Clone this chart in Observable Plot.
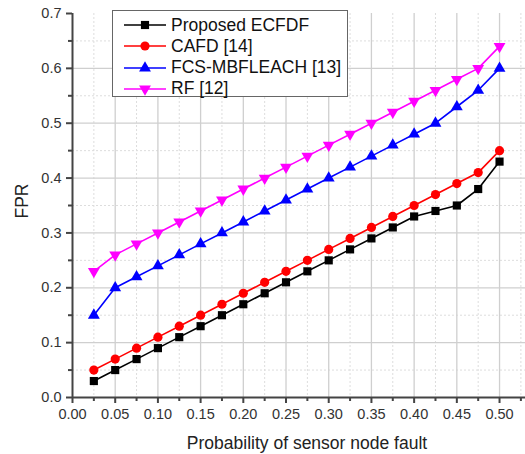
<!DOCTYPE html>
<html>
<head>
<meta charset="utf-8">
<script src="https://cdn.jsdelivr.net/npm/d3@7"></script>
<script src="https://cdn.jsdelivr.net/npm/@observablehq/plot@0.6"></script>
<style>
  html, body { margin: 0; padding: 0; background: #fff; }
  #wrap { position: relative; width: 525px; height: 454px; font-family: "Liberation Sans", Arial, sans-serif; }
  #legend { position: absolute; left: 112px; top: 10px; width: 236px; height: 87px; border: 1px solid #666; background: #fff; box-sizing: border-box; }
  .row { position: absolute; left: 0; height: 20px; display: flex; align-items: center; font-size: 17.5px; color: #111; white-space: nowrap; }
  .row svg { margin-left: 11px; margin-right: 5px; }
</style>
</head>
<body>
<div id="wrap"><div id="chart"></div><div id="legend"></div></div>
<script>
const xValues = [0.025, 0.05, 0.075, 0.1, 0.125, 0.15, 0.175, 0.2, 0.225, 0.25, 0.275, 0.3, 0.325, 0.35, 0.375, 0.4, 0.425, 0.45, 0.475, 0.5];
const ecfdf = [0.03, 0.05, 0.07, 0.09, 0.11, 0.13, 0.15, 0.17, 0.19, 0.21, 0.23, 0.25, 0.27, 0.29, 0.31, 0.33, 0.34, 0.35, 0.38, 0.43];
const cafd  = [0.05, 0.07, 0.09, 0.11, 0.13, 0.15, 0.17, 0.19, 0.21, 0.23, 0.25, 0.27, 0.29, 0.31, 0.33, 0.35, 0.37, 0.39, 0.41, 0.45];
const fcs   = [0.15, 0.20, 0.22, 0.24, 0.26, 0.28, 0.30, 0.32, 0.34, 0.36, 0.38, 0.40, 0.42, 0.44, 0.46, 0.48, 0.50, 0.53, 0.56, 0.60];
const rf    = [0.23, 0.26, 0.28, 0.30, 0.32, 0.34, 0.36, 0.38, 0.40, 0.42, 0.44, 0.46, 0.48, 0.50, 0.52, 0.54, 0.56, 0.58, 0.60, 0.64];
const seriesNames = ["Proposed ECFDF", "CAFD [14]", "FCS-MBFLEACH [13]", "RF [12]"];
const seriesColors = ["#000000", "#ff0000", "#0000ff", "#ff00ff"];
const xTicks = [0, 0.05, 0.1, 0.15, 0.2, 0.25, 0.3, 0.35, 0.4, 0.45, 0.5];
const xMinorTicks = [0.025, 0.075, 0.125, 0.175, 0.225, 0.275, 0.325, 0.375, 0.425, 0.475, 0.525];
const yTicks = [0, 0.1, 0.2, 0.3, 0.4, 0.5, 0.6, 0.7];
const yMinorTicks = [0.05, 0.15, 0.25, 0.35, 0.45, 0.55, 0.65];
const xLabel = "Probability of sensor node fault";
const yLabel = "FPR";

const allSeries = [ecfdf, cafd, fcs, rf];
const rows = [];
allSeries.forEach((vals, i) => vals.forEach((v, j) => rows.push({x: xValues[j], y: v, series: seriesNames[i]})));

const symbols = {
  "Proposed ECFDF": {symbol: "square", r: 4.6, rotate: 0},
  "CAFD [14]": {symbol: "circle", r: 4.6, rotate: 0},
  "FCS-MBFLEACH [13]": {symbol: "triangle", r: 4.4, rotate: 0},
  "RF [12]": {symbol: "triangle", r: 4.4, rotate: 180}
};

const axisStroke = "#444";
const gridStroke = "#cfcfcf";
const font = "Liberation Sans, Arial, sans-serif";

const marks = [
  Plot.ruleX(xMinorTicks, {stroke: "#ddd", strokeDasharray: "2,2"}),
  Plot.ruleY(yMinorTicks, {stroke: "#ddd", strokeDasharray: "2,2"}),
  Plot.ruleX(xTicks.slice(1), {stroke: gridStroke, strokeWidth: 1.3}),
  Plot.ruleY(yTicks.slice(1, -1), {stroke: gridStroke, strokeWidth: 1.3}),
  Plot.line(rows, {x: "x", y: "y", z: "series", stroke: "series", strokeWidth: 1.6}),
];
seriesNames.forEach(name => {
  const s = symbols[name];
  marks.push(Plot.dot(rows.filter(d => d.series === name), {x: "x", y: "y", fill: "series", stroke: "none", symbol: () => s.symbol, r: s.r, rotate: s.rotate}));
});
marks.push(
  Plot.axisY(yTicks, {tickSize: 6, tickPadding: 5, tickFormat: d3.format(".1f"), stroke: axisStroke, strokeWidth: 2, fill: "#333", fontSize: 14.5, label: null}),
  Plot.axisY(yMinorTicks, {tickSize: 4, tickFormat: () => "", stroke: axisStroke, strokeWidth: 2, label: null}),
  Plot.axisX(xTicks, {tickSize: 6, tickPadding: 5, tickFormat: d3.format(".2f"), stroke: axisStroke, strokeWidth: 2, fill: "#333", fontSize: 14.5, label: null}),
  Plot.axisX(xMinorTicks, {tickSize: 4, tickFormat: () => "", stroke: axisStroke, strokeWidth: 2, label: null}),
  Plot.ruleX([0], {stroke: axisStroke, strokeWidth: 2}),
  Plot.ruleY([0], {stroke: axisStroke, strokeWidth: 2}),
  Plot.text([xLabel], {frameAnchor: "bottom", dx: 8, dy: 46, text: d => d, fontSize: 17.5, fill: "#222", lineAnchor: "middle"}),
  Plot.text([yLabel], {frameAnchor: "left", dx: -50, dy: 13, text: d => d, rotate: -90, fontSize: 17.5, fill: "#222"})
);

const chart = Plot.plot({
  width: 525,
  height: 454,
  marginLeft: 72,
  marginRight: 0,
  marginTop: 13,
  marginBottom: 57,
  style: {fontFamily: font, fontSize: "14.5px", background: "#fff", overflow: "visible"},
  x: {domain: [0, 0.5304], axis: null},
  y: {domain: [0, 0.7], axis: null},
  color: {domain: seriesNames, range: seriesColors},
  marks
});
document.getElementById("chart").appendChild(chart);

// legend
const legend = document.getElementById("legend");
seriesNames.forEach((name, i) => {
  const s = symbols[name];
  const row = document.createElement("div");
  row.className = "row";
  row.style.top = (4 + i * 21.3) + "px";
  const size = s.r * s.r * Math.PI;
  const sym = {square: d3.symbolSquare, circle: d3.symbolCircle, triangle: d3.symbolTriangle}[s.symbol];
  const path = d3.symbol(sym, size)();
  row.innerHTML = `<svg width="42" height="20"><line x1="0" x2="42" y1="10" y2="10" stroke="${seriesColors[i]}" stroke-width="1.6"/><path d="${path}" transform="translate(21,10) rotate(${s.rotate})" fill="${seriesColors[i]}"/></svg><span>${name}</span>`;
  legend.appendChild(row);
});
</script>
</body>
</html>
